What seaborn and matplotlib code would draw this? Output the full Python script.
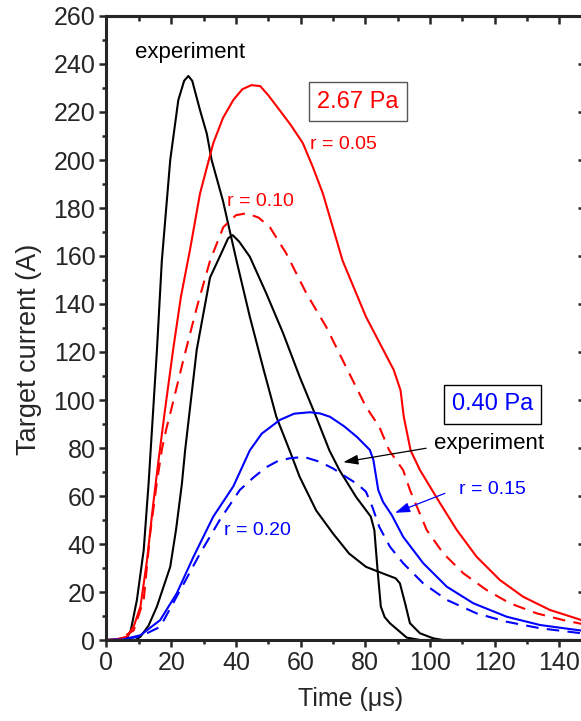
import numpy as np
import pandas as pd
import matplotlib
matplotlib.use("Agg")
import matplotlib.pyplot as plt
import seaborn as sns

# ---------------- data ----------------
exp267_t = [0, 6.0, 7.5, 9.4, 11.5, 13, 15.6, 17.1, 19.7, 22.2, 24, 25.3, 26.5, 28.9, 31,
            32.5, 36, 40.2, 44.3, 48.5, 52.5, 56.6, 59.7, 64.8, 70, 75, 80.2, 85.3,
            89.4, 90.7, 92.3, 93.8, 96.9, 101, 104, 148]
exp267_i = [0, 0, 4, 16.7, 37.5, 65, 121, 158, 200, 225, 233, 235, 233, 220.8, 211,
            200, 183, 158, 134.7, 113, 93, 79, 68, 54, 44.4, 36, 30.5, 27.8,
            25.7, 23.6, 15.3, 7, 2.8, 0.7, 0, 0]

exp040_t = [0, 9, 10.5, 13, 15.6, 19.7, 21.5, 23.3, 24.3, 27.9, 32, 35, 37.6, 39, 41, 44.3,
            49.4, 54.6, 59.7, 64.8, 68.9, 72, 77.1, 81.7, 82.8, 83.8, 84.8, 86, 87.6,
            92.8, 97, 148]
exp040_i = [0, 0, 1.4, 6, 14, 30.5, 46, 65, 79, 121, 151, 159.7, 167.4, 168.7, 166, 159.7,
            144.4, 127.8, 109.7, 93, 79, 70.8, 59.7, 51.4, 45.8, 29, 13.9, 9.5, 7,
            1, 0, 0]

sim005_t = [0, 3, 6.4, 8.5, 10.5, 12.5, 14.3, 16, 18, 20.6, 23, 25.8, 28.9, 33, 36,
            39.2, 42, 44.8, 47.5, 50, 53.5, 57, 60.7, 63.8, 66.9, 73, 80.2, 88.8,
            90.9, 91.9, 94, 96.9, 103.1, 108.3, 114.4, 121.6, 128.8, 137.1, 148]
sim005_i = [0, 0.3, 1.4, 6, 14, 33, 55, 74, 95, 121, 143, 162.5, 186, 207, 217.5,
            225, 229.5, 231.2, 230.8, 227, 220.8, 214.5, 207, 197, 186, 158, 134.7, 112.5,
            104, 93, 79, 70.8, 57, 45.8, 34.7, 25, 18, 12.5, 7.8]

sim010_t = [0, 4, 8.4, 11.5, 13.5, 15.5, 17.2, 18.5, 20, 24, 28, 32, 36.1, 40, 43.3, 47,
            50.5, 55.6, 61.8, 67.9, 74, 80.2, 84.3, 87.4, 91.7, 93.8, 99, 104.1,
            110.3, 117.5, 124.7, 133, 141.2, 148]
sim010_i = [0, 0.3, 4, 16.7, 44.4, 65, 80, 88, 96, 118, 139, 158, 172, 177, 177.8, 176,
            172, 161, 144.4, 130.5, 113.9, 97.2, 88.9, 79, 70.8, 62.5, 45.8, 36.1,
            27.8, 20.8, 15.3, 11.1, 8.3, 6.4]

sim015_t = [0, 5, 10.5, 16.6, 21.7, 26.9, 33, 39.2, 44.3, 48, 53.6, 58, 62.9, 66, 69.1,
            73.5, 77.5, 81.4, 82.5, 84, 85.5, 88.2, 91.7, 97.9, 105.2, 113.4, 123.7,
            134, 148]
sim015_i = [0, 0.2, 2, 8.3, 19.4, 34.7, 51.4, 64, 79, 86, 91.7, 94.3, 94.9, 94.4, 93,
            89, 84.5, 79.2, 75, 62.5, 57.5, 52, 43, 32, 22.2, 15.3, 9.7, 6.25, 3.7]

sim020_t = [0, 5, 10.5, 16.6, 22.8, 28.9, 35, 41.2, 45.5, 49.4, 53, 56.6, 61, 65.8, 70,
            74, 77.5, 80.2, 82.3, 84.3, 87.6, 91.7, 97.9, 105.2, 114.4, 123.7, 134, 148]
sim020_i = [0, 0.2, 1.5, 5.5, 20.8, 36, 50, 62.5, 67.8, 72, 74.6, 75.7, 76.3, 74.3,
            71.5, 68, 65, 61.8, 55, 47.2, 38.9, 32, 23.6, 16.7, 11.1, 7.6, 4.9, 2.6]

x_ticks = [0, 20, 40, 60, 80, 100, 120, 140]
y_ticks = [0, 20, 40, 60, 80, 100, 120, 140, 160, 180, 200, 220, 240, 260]

# ---------------- style ----------------
sns.set_style("ticks")
plt.rcParams['font.family'] = ['Liberation Sans', 'DejaVu Sans']

W, H = 581, 721
fig = plt.figure(figsize=(W / 100, H / 100), dpi=100)
x0_px, y0_px = 106.5, 640.0
xs = 3.235   # px per unit
ys = 2.4     # px per unit
xmax = 148.0
ymax = 260.0
ax = fig.add_axes([x0_px / W, (H - y0_px) / H, xmax * xs / W, ymax * ys / H])

series = [
    (exp267_t, exp267_i, "black", "-"),
    (exp040_t, exp040_i, "black", "-"),
    (sim005_t, sim005_i, "#ff0000", "-"),
    (sim010_t, sim010_i, "#ff0000", (0, (6, 4))),
    (sim015_t, sim015_i, "#0000ff", "-"),
    (sim020_t, sim020_i, "#0000ff", (0, (6, 4))),
]
for t, i, c, ls in series:
    df = pd.DataFrame({"t": t, "i": i})
    sns.lineplot(data=df, x="t", y="i", ax=ax, color=c, linewidth=1.5,
                 linestyle=ls, sort=False, estimator=None)

ax.set_xlim(0, xmax)
ax.set_ylim(0, ymax)
ax.set_xticks(x_ticks)
ax.set_yticks(y_ticks)
ax.set_xticks(np.arange(10, 150, 20), minor=True)
ax.set_yticks(np.arange(10, 260, 20), minor=True)

for s in ax.spines.values():
    s.set_linewidth(2.2)
    s.set_visible(True)

ax.tick_params(axis="both", which="major", direction="out", length=5, width=1.8,
               labelsize=18, pad=3)
ax.tick_params(axis="both", which="minor", direction="out", length=3, width=1.8)

secx = ax.secondary_xaxis("top")
secx.set_xticks(x_ticks)
secx.set_xticks(np.arange(10, 150, 20), minor=True)
secx.tick_params(which="major", direction="in", length=6, width=1.8, labeltop=False)
secx.tick_params(which="minor", direction="in", length=3.5, width=1.8)
secx.spines["top"].set_linewidth(2.2)

secy = ax.secondary_yaxis("right")
secy.set_yticks(y_ticks)
secy.tick_params(which="major", direction="in", length=5, width=1.8, labelright=False)
secy.spines["right"].set_linewidth(2.2)

ax.set_xlabel("Time (\u03bcs)", fontsize=18, labelpad=6)
ax.xaxis.set_label_coords(0.51, -0.075)
ax.set_ylabel("Target current (A)", fontsize=19.5, labelpad=8)
ax.yaxis.set_label_coords(-0.135, 0.465)

# ---------------- annotations ----------------
ax.text(25.8, 244.6, "experiment", fontsize=16, ha="center", va="center", color="black")
ax.text(77.6, 224.3, "2.67 Pa", fontsize=17, ha="center", va="center", color="#ff0000",
        bbox=dict(boxstyle="square,pad=0.35", fc="white", ec="#555555", lw=1.0))
ax.text(73.3, 206.3, "r = 0.05", fontsize=14, ha="center", va="center", color="#ff0000")
ax.text(47.7, 182.6, "r = 0.10", fontsize=14, ha="center", va="center", color="#ff0000")
ax.text(119.3, 98.2, "0.40 Pa", fontsize=17, ha="center", va="center", color="#0000ff",
        bbox=dict(boxstyle="square,pad=0.35", fc="white", ec="black", lw=1.0))
ax.text(118.4, 81.9, "experiment", fontsize=16, ha="center", va="center", color="black")
ax.annotate("", xy=(73.2, 74.1), xytext=(98.8, 79.9),
            arrowprops=dict(arrowstyle="-|>,head_length=0.9,head_width=0.3",
                            color="black", lw=0.9, shrinkA=0, shrinkB=0))
ax.text(119.4, 62.5, "r = 0.15", fontsize=14, ha="center", va="center", color="#0000ff")
ax.annotate("", xy=(89.2, 53), xytext=(104.6, 61.1),
            arrowprops=dict(arrowstyle="-|>,head_length=0.9,head_width=0.3",
                            color="#0000ff", lw=0.9, shrinkA=0, shrinkB=0))
ax.text(46.6, 45.8, "r = 0.20", fontsize=14, ha="center", va="center", color="#0000ff")

fig.savefig("out.png", dpi=100)
